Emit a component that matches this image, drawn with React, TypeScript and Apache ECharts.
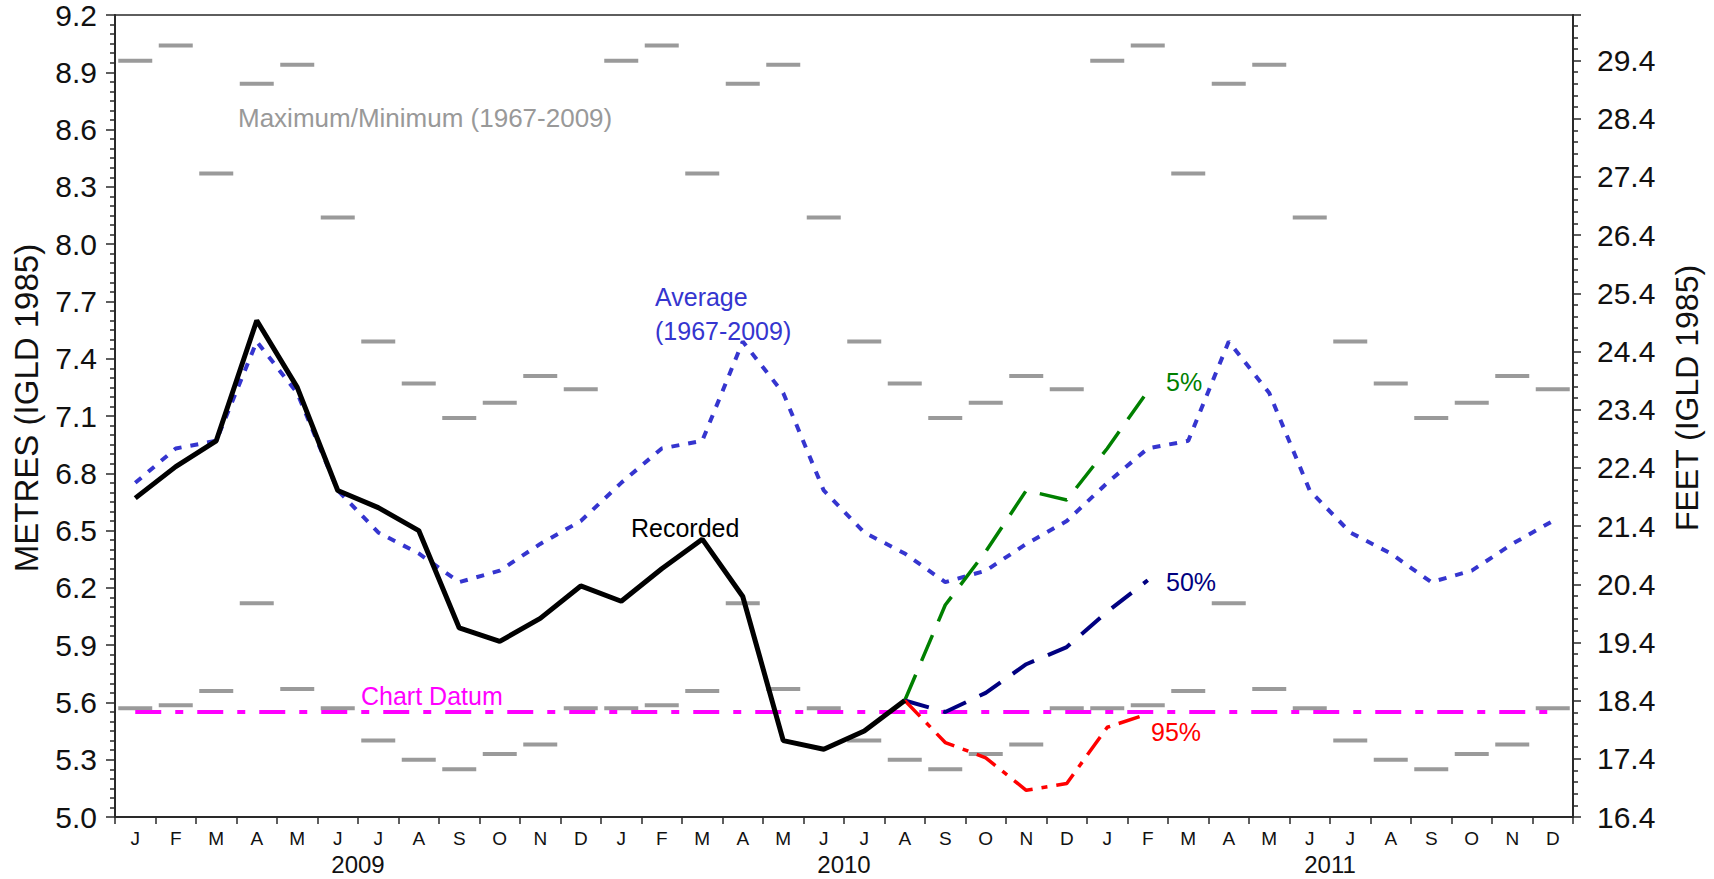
import React, { useEffect, useRef } from "react";
import * as echarts from "echarts";

// ---- tick labels / categories ----
const years = ["2009", "2010", "2011"];
const monthLetters = ["J", "F", "M", "A", "M", "J", "J", "A", "S", "O", "N", "D"];

// ---- climatology (1967-2009), metres, Jan..Dec ----
const averageMonthly = [6.75, 6.93, 6.97, 7.49, 7.22, 6.71, 6.49, 6.38, 6.23, 6.29, 6.43, 6.55];
const maximumMonthly = [8.96, 9.04, 8.37, 8.84, 8.94, 8.14, 7.49, 7.27, 7.09, 7.17, 7.31, 7.24];
const minimumMonthly = [5.57, 5.585, 5.66, 6.12, 5.67, 5.57, 5.4, 5.3, 5.25, 5.33, 5.38, 5.57];

// ---- recorded, Jan 2009 .. Aug 2010 ----
const recorded = [
  6.67, 6.835, 6.97, 7.6, 7.25, 6.71, 6.62, 6.5, 5.99, 5.92, 6.04, 6.21,
  6.13, 6.3, 6.455, 6.155, 5.4, 5.355, 5.45, 5.61,
];

// ---- forecasts, Aug 2010 .. Feb 2011 ----
const forecastStart = 19;
const forecast5 = [5.61, 6.11, 6.39, 6.71, 6.66, 6.93, 7.23];
const forecast50 = [5.61, 5.55, 5.65, 5.8, 5.89, 6.075, 6.24];
const forecast95 = [5.61, 5.39, 5.31, 5.14, 5.175, 5.47, 5.54];

const chartDatum = 5.55;

// axis settings
const metreMin = 5.0;
const metreMax = 9.2;
const metreStep = 0.3;
const feetFirstLabel = 16.4;
const M_PER_FT = 0.3048;

const FONT = "'Liberation Sans', Arial, Helvetica, sans-serif";

export default function App() {
  const ref = useRef<HTMLDivElement>(null);

  useEffect(() => {
    if (!ref.current) return;
    const chart = echarts.init(ref.current, undefined, { renderer: "svg" });

    const categories: string[] = [];
    years.forEach((y) => monthLetters.forEach((m, i) => categories.push(`${y}-${i}-${m}`)));
    const nMonths = categories.length;

    // left axis uses (metres - metreMin) so that min is a multiple of interval
    const toAxis = (v: number) => +(v - metreMin).toFixed(4);
    const feetShift = feetFirstLabel - Math.floor(feetFirstLabel); // 0.4

    const climat = (arr: number[]) => categories.map((_, i) => toAxis(arr[i % 12]));
    const fc = (arr: number[]) => arr.map((v, i) => [forecastStart + i, toAxis(v)]);

    const axisColor = "#2a2a2a";

    const option: any = {
      animation: false,
      backgroundColor: "#ffffff",
      grid: {
        left: 115,
        right: 141,
        top: 15,
        bottom: 62,
        show: true,
        borderColor: axisColor,
        borderWidth: 1.5,
        containLabel: false,
        outerBoundsMode: "none",
      },
      xAxis: [
        {
          type: "category",
          data: categories,
          boundaryGap: true,
          axisLine: { show: true, lineStyle: { color: axisColor, width: 2 } },
          axisTick: { show: true, alignWithLabel: false, interval: 0, length: 7, lineStyle: { color: axisColor, width: 1.5 } },
          axisLabel: {
            interval: 0,
            margin: 12,
            fontSize: 19,
            color: "#111",
            fontFamily: FONT,
            formatter: (v: string) => v.split("-")[2],
          },
          splitLine: { show: false },
        },
        {
          type: "value",
          min: 0,
          max: nMonths,
          interval: 6,
          position: "bottom",
          axisLine: { show: false },
          axisTick: { show: false },
          splitLine: { show: false },
          axisLabel: {
            margin: 35,
            fontSize: 24,
            color: "#111",
            fontFamily: FONT,
            formatter: (v: number) => (Math.round(v) % 12 === 6 ? years[(Math.round(v) - 6) / 12] : ""),
          },
        },
      ],
      yAxis: [
        {
          type: "value",
          position: "left",
          min: 0,
          max: toAxis(metreMax),
          interval: metreStep,
          axisLine: { show: true, lineStyle: { color: axisColor, width: 2 } },
          axisTick: { show: true, length: 9, lineStyle: { color: axisColor, width: 1.5 } },
          minorTick: { show: true, splitNumber: 6, length: 5, lineStyle: { color: axisColor, width: 1.5 } },
          splitLine: { show: false },
          axisLabel: {
            margin: 18,
            fontSize: 30,
            color: "#111",
            fontFamily: FONT,
            formatter: (v: number) => (v + metreMin).toFixed(1),
          },
        },
        {
          type: "value",
          position: "right",
          min: Math.floor(feetFirstLabel),
          max: metreMax / M_PER_FT - feetShift,
          interval: 1,
          axisLine: { show: true, lineStyle: { color: axisColor, width: 2 } },
          axisTick: { show: true, length: 8, lineStyle: { color: axisColor, width: 1.5 } },
          minorTick: { show: true, splitNumber: 5, length: 5, lineStyle: { color: axisColor, width: 1.5 } },
          splitLine: { show: false },
          axisLabel: {
            margin: 24,
            fontSize: 30,
            color: "#111",
            fontFamily: FONT,
            showMaxLabel: false,
            formatter: (v: number) =>
              Math.abs(v - Math.round(v)) < 1e-6 ? (v + feetShift).toFixed(1) : "",
          },
        },
      ],
      series: [
        {
          name: "Maximum",
          type: "scatter",
          symbol: "rect",
          symbolSize: [34, 4],
          itemStyle: { color: "#9a9a9a", opacity: 1 },
          data: climat(maximumMonthly),
          silent: true,
          z: 1,
        },
        {
          name: "Minimum",
          type: "scatter",
          symbol: "rect",
          symbolSize: [34, 4],
          itemStyle: { color: "#9a9a9a", opacity: 1 },
          data: climat(minimumMonthly),
          silent: true,
          z: 1,
        },
        {
          name: "Chart Datum",
          type: "line",
          showSymbol: false,
          data: categories.map(() => toAxis(chartDatum)),
          lineStyle: { color: "#ff00ff", width: 4, type: [26, 14, 8, 14] },
          silent: true,
          z: 2,
        },
        {
          name: "Average",
          type: "line",
          showSymbol: false,
          data: climat(averageMonthly),
          lineStyle: { color: "#3535cf", width: 4, type: [8, 9] },
          silent: true,
          z: 3,
        },
        {
          name: "5%",
          type: "line",
          showSymbol: false,
          data: fc(forecast5),
          lineStyle: { color: "#008000", width: 3.5, type: [28, 15] },
          silent: true,
          z: 4,
        },
        {
          name: "50%",
          type: "line",
          showSymbol: false,
          data: fc(forecast50),
          lineStyle: { color: "#000080", width: 4, type: [25, 15] },
          silent: true,
          z: 4,
        },
        {
          name: "95%",
          type: "line",
          showSymbol: false,
          data: fc(forecast95),
          lineStyle: { color: "#ff0000", width: 3.5, type: [22, 9, 6, 9] },
          silent: true,
          z: 4,
        },
        {
          name: "Recorded",
          type: "line",
          showSymbol: false,
          data: recorded.map(toAxis),
          lineStyle: { color: "#000000", width: 5 },
          silent: true,
          z: 5,
        },
      ],
      graphic: [
        {
          type: "text",
          x: 26,
          y: 408,
          rotation: Math.PI / 2,
          style: { text: "METRES (IGLD 1985)", fontSize: 33, fontFamily: FONT, fill: "#111", align: "center", verticalAlign: "middle" },
        },
        {
          type: "text",
          x: 1687,
          y: 398,
          rotation: Math.PI / 2,
          style: { text: "FEET (IGLD 1985)", fontSize: 32, fontFamily: FONT, fill: "#111", align: "center", verticalAlign: "middle" },
        },
        {
          type: "text",
          x: 238,
          y: 118,
          style: { text: "Maximum/Minimum (1967-2009)", fontSize: 26, fontFamily: FONT, fill: "#999999", align: "left", verticalAlign: "middle" },
        },
        {
          type: "text",
          x: 655,
          y: 297,
          style: { text: "Average", fontSize: 25, fontFamily: FONT, fill: "#3535cf", align: "left", verticalAlign: "middle" },
        },
        {
          type: "text",
          x: 655,
          y: 331,
          style: { text: "(1967-2009)", fontSize: 25, fontFamily: FONT, fill: "#3535cf", align: "left", verticalAlign: "middle" },
        },
        {
          type: "text",
          x: 631,
          y: 528,
          style: { text: "Recorded", fontSize: 25, fontFamily: FONT, fill: "#000000", align: "left", verticalAlign: "middle" },
        },
        {
          type: "text",
          x: 1166,
          y: 382,
          style: { text: "5%", fontSize: 25, fontFamily: FONT, fill: "#008000", align: "left", verticalAlign: "middle" },
        },
        {
          type: "text",
          x: 1166,
          y: 582,
          style: { text: "50%", fontSize: 25, fontFamily: FONT, fill: "#000080", align: "left", verticalAlign: "middle" },
        },
        {
          type: "text",
          x: 1151,
          y: 732,
          style: { text: "95%", fontSize: 25, fontFamily: FONT, fill: "#ff0000", align: "left", verticalAlign: "middle" },
        },
        {
          type: "text",
          x: 361,
          y: 696,
          style: { text: "Chart Datum", fontSize: 25, fontFamily: FONT, fill: "#ff00ff", align: "left", verticalAlign: "middle" },
        },
      ],
    };

    chart.setOption(option);
    return () => {
      chart.dispose();
    };
  }, []);

  return (
    <div
      ref={ref}
      style={{ position: "fixed", left: 0, top: 0, width: 1714, height: 879, background: "#fff" }}
    />
  );
}
